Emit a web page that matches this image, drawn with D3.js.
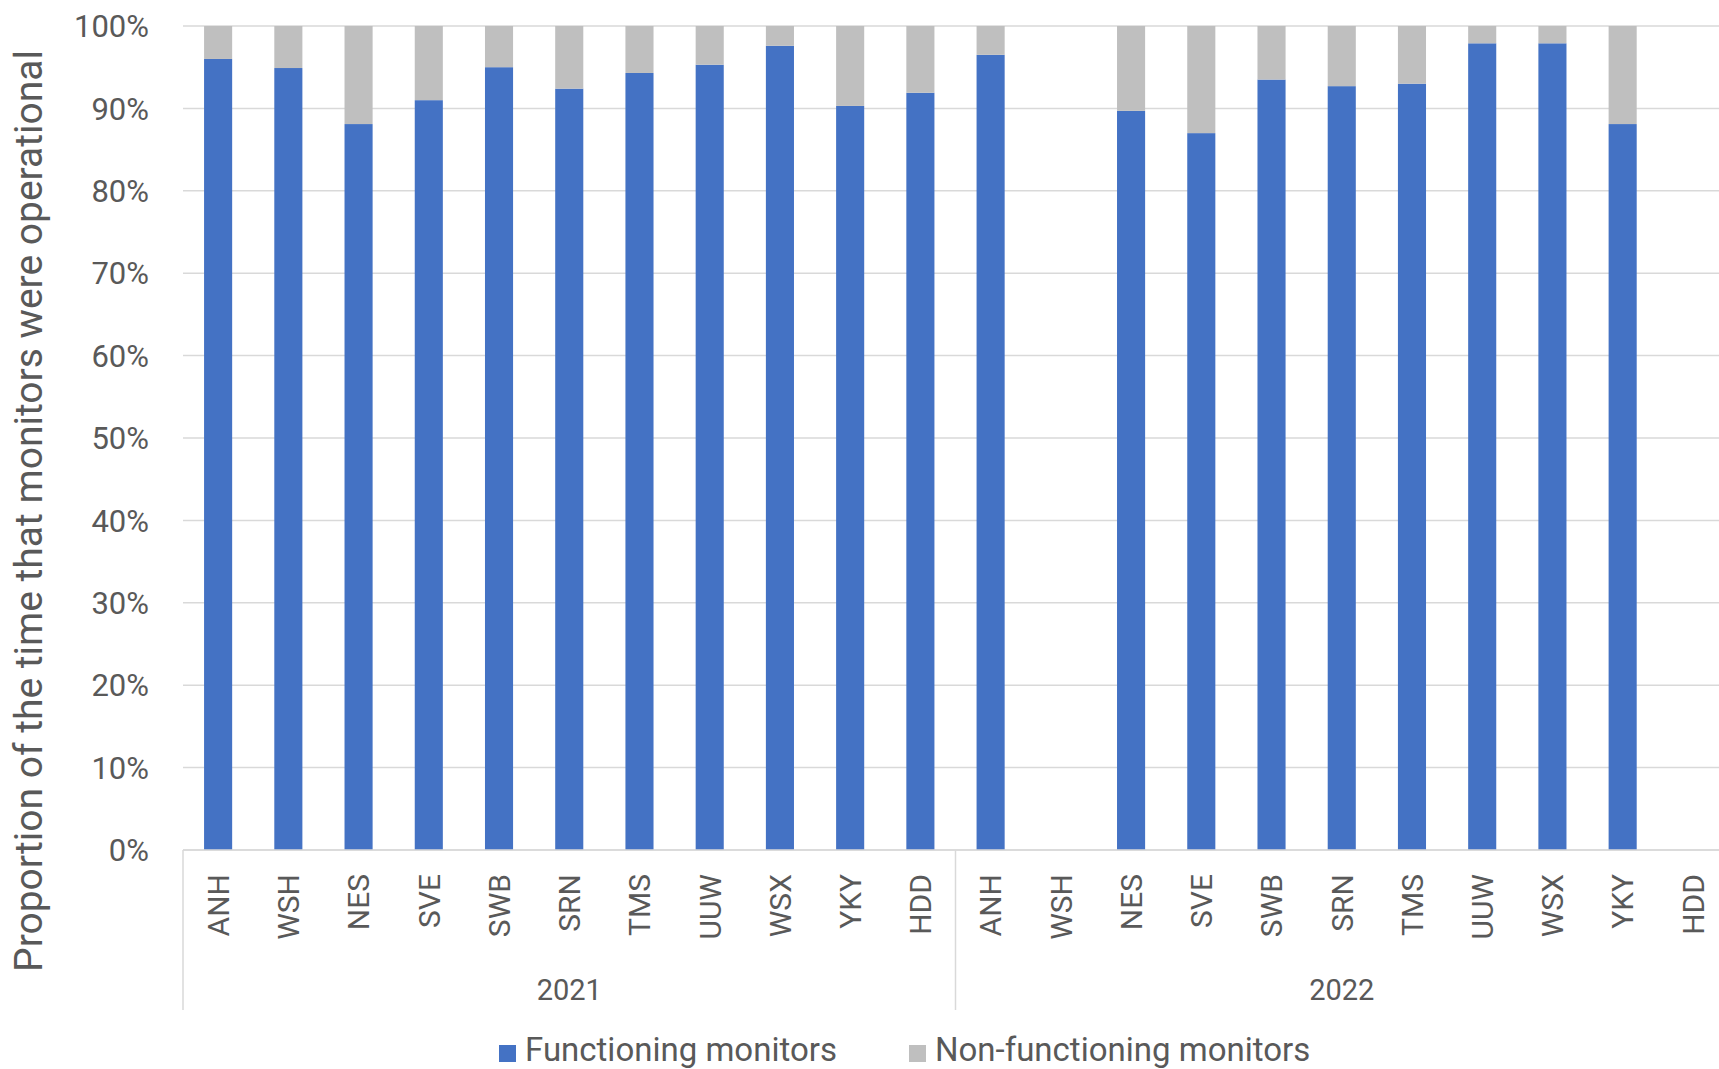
<!DOCTYPE html>
<html lang="en">
<head>
    <meta charset="UTF-8">
    <title>Proportion of the time that monitors were operational</title>
    <script src="https://d3js.org/d3.v7.min.js"></script>
    <style>
        body {
            margin: 0;
            background: #fff;
            font-family: Roboto, "Noto Sans", Arial, sans-serif;
        }
        .grid line {
            stroke: #d9d9d9;
            stroke-width: 1.5;
        }
        .tick-label {
            font-size: 31px;
            fill: #595959;
            text-anchor: end;
        }
        .cat-label {
            font-size: 30px;
            fill: #595959;
            text-anchor: end;
        }
        .year-label {
            font-size: 29px;
            fill: #595959;
            text-anchor: middle;
        }
        .axis-title {
            font-size: 39px;
            fill: #595959;
            text-anchor: middle;
        }
        .legend-text {
            font-size: 33px;
            fill: #595959;
        }
    </style>
</head>
<body>
<svg width="1719" height="1069"></svg>
<script>
    const years = ["2021", "2022"];
    const companies = ["ANH", "WSH", "NES", "SVE", "SWB", "SRN", "TMS", "UUW", "WSX", "YKY", "HDD"];
    // percentage of time monitors were functioning / not functioning (null = no data)
    const functioning2021 = [96.0, 94.9, 88.1, 91.0, 95.0, 92.4, 94.3, 95.3, 97.6, 90.3, 91.9];
    const functioning2022 = [96.5, null, 89.7, 87.0, 93.5, 92.7, 93.0, 97.9, 97.9, 88.1, null];
    const nonFunctioning2021 = [4.0, 5.1, 11.9, 9.0, 5.0, 7.6, 5.7, 4.7, 2.4, 9.7, 8.1];
    const nonFunctioning2022 = [3.5, null, 10.3, 13.0, 6.5, 7.3, 7.0, 2.1, 2.1, 11.9, null];
    const yTicks = [0, 10, 20, 30, 40, 50, 60, 70, 80, 90, 100];
    const seriesNames = ["Functioning monitors", "Non-functioning monitors"];
    const seriesColors = ["#4472c4", "#bfbfbf"];

    const functioning = { "2021": functioning2021, "2022": functioning2022 };
    const nonFunctioning = { "2021": nonFunctioning2021, "2022": nonFunctioning2022 };

    const rows = [];
    years.forEach(yr => {
        companies.forEach((c, i) => {
            rows.push({
                key: yr + "|" + c,
                year: yr,
                company: c,
                on: functioning[yr][i],
                off: nonFunctioning[yr][i]
            });
        });
    });

    const svg = d3.select("svg"),
          margin = { top: 26, left: 183 },
          plotW = 1545,
          plotH = 824,
          g = svg.append("g").attr("transform", `translate(${margin.left},${margin.top})`);

    const x = d3.scaleBand()
                .domain(rows.map(d => d.key))
                .range([0, plotW])
                .paddingInner(0.6)
                .paddingOuter(0.3);

    const y = d3.scaleLinear()
                .domain([0, 100])
                .range([plotH, 0]);

    // gridlines
    g.append("g")
        .attr("class", "grid")
        .selectAll("line")
        .data(yTicks)
        .enter().append("line")
        .attr("x1", 0)
        .attr("x2", plotW)
        .attr("y1", d => y(d))
        .attr("y2", d => y(d));

    // y tick labels
    g.selectAll(".tick-label")
        .data(yTicks)
        .enter().append("text")
        .attr("class", "tick-label")
        .attr("x", -34)
        .attr("y", d => y(d))
        .attr("dy", "0.36em")
        .text(d => d + "%");

    // stacked bars
    const stack = d3.stack().keys(["on", "off"]).value((d, k) => d[k] || 0);
    const layers = stack(rows);

    g.selectAll(".layer")
        .data(layers)
        .enter().append("g")
        .attr("class", "layer")
        .attr("fill", (d, i) => seriesColors[i])
        .selectAll("rect")
        .data(d => d.filter(p => p[1] > p[0]))
        .enter().append("rect")
        .attr("x", d => x(d.data.key))
        .attr("y", d => y(d[1]))
        .attr("width", x.bandwidth())
        .attr("height", d => y(d[0]) - y(d[1]));

    // x axis baseline
    g.append("line")
        .attr("x1", 0).attr("x2", plotW)
        .attr("y1", plotH).attr("y2", plotH)
        .attr("stroke", "#d9d9d9")
        .attr("stroke-width", 1.5);

    // group separators
    const step = x.step();
    const groupEdges = d3.range(years.length + 1).map(i => i * companies.length * step);
    g.selectAll(".sep")
        .data(groupEdges)
        .enter().append("line")
        .attr("class", "sep")
        .attr("x1", d => d).attr("x2", d => d)
        .attr("y1", plotH).attr("y2", plotH + 160)
        .attr("stroke", "#d9d9d9")
        .attr("stroke-width", 1.5);

    // category labels (rotated)
    g.selectAll(".cat-label")
        .data(rows)
        .enter().append("text")
        .attr("class", "cat-label")
        .attr("transform", d => `translate(${x(d.key) + x.bandwidth() / 2},${plotH + 24}) rotate(-90)`)
        .attr("dy", "0.36em")
        .text(d => d.company);

    // year labels
    g.selectAll(".year-label")
        .data(years)
        .enter().append("text")
        .attr("class", "year-label")
        .attr("x", (d, i) => (groupEdges[i] + groupEdges[i + 1]) / 2)
        .attr("y", plotH + 140)
        .attr("dy", "0.36em")
        .text(d => d);

    // y axis title
    svg.append("text")
        .attr("class", "axis-title")
        .attr("transform", `translate(28,511) rotate(-90)`)
        .attr("dy", "0.36em")
        .text("Proportion of the time that monitors were operational");

    // legend
    const legendX = [499, 909];
    const legend = svg.selectAll(".legend")
        .data(seriesNames)
        .enter().append("g")
        .attr("class", "legend")
        .attr("transform", (d, i) => `translate(${legendX[i]},1045)`);

    legend.append("rect")
        .attr("width", 17)
        .attr("height", 17)
        .attr("fill", (d, i) => seriesColors[i]);

    legend.append("text")
        .attr("class", "legend-text")
        .attr("x", 26)
        .attr("y", 4)
        .attr("dy", "0.36em")
        .text(d => d);
</script>
</body>
</html>
